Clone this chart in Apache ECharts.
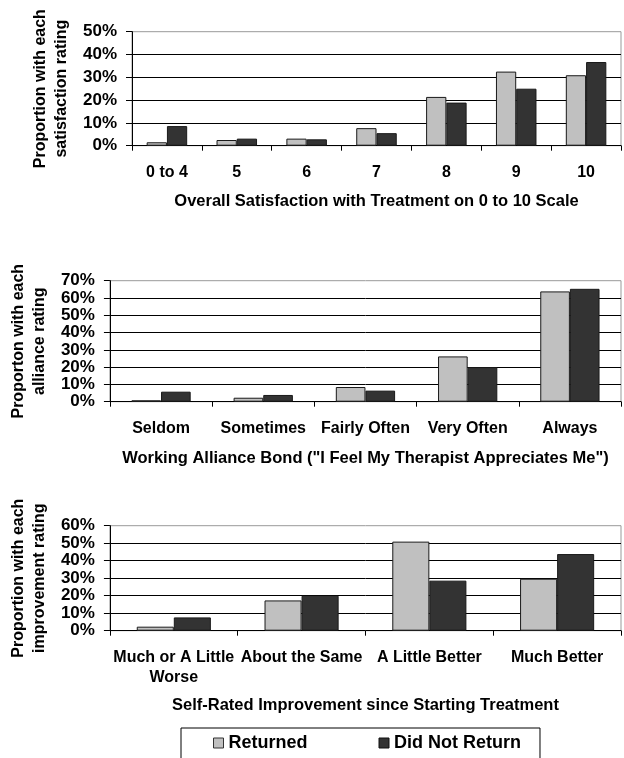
<!DOCTYPE html>
<html>
<head>
<meta charset="utf-8">
<script src="https://cdn.jsdelivr.net/npm/echarts@6/dist/echarts.min.js"></script>
<style>
html,body{margin:0;padding:0;background:#fff;}
#c{width:624px;height:758px;}
</style>
</head>
<body>
<div id="c"></div>
<script>
// ---- data ----
var seriesNames = ['Returned', 'Did Not Return'];

var satCategories = ['0 to 4', '5', '6', '7', '8', '9', '10'];
var satReturned = [1.5, 2.5, 3.1, 7.7, 21.4, 32.5, 30.9];
var satNotReturn = [8.6, 3.1, 2.8, 5.5, 18.9, 25.0, 36.7];
var satTicks = [0, 50, 10];

var allianceCategories = ['Seldom', 'Sometimes', 'Fairly Often', 'Very Often', 'Always'];
var allianceReturned = [0.8, 2.3, 8.5, 26.2, 63.8];
var allianceNotReturn = [5.8, 3.9, 6.4, 20.0, 65.3];
var allianceTicks = [0, 70, 10];

var improveCategories = ['Much or A Little\nWorse', 'About the Same', 'A Little Better', 'Much Better'];
var improveReturned = [2.3, 17.3, 50.9, 29.7];
var improveNotReturn = [7.6, 20.0, 28.6, 43.8];
var improveTicks = [0, 60, 10];

// ---- chart ----
var FONT = '"Liberation Sans", Arial, sans-serif';
var colReturned = '#c0c0c0';
var colNotReturn = '#333333';

var grids = [
  {left: 132, right: 3, top: 31.7, height: 114},
  {left: 107, right: 3, top: 280.7, height: 121},
  {left: 107, right: 3, top: 525.7, height: 105}
];
grids.forEach(function (g) {
  g.show = true; g.borderColor = '#999'; g.borderWidth = 1; g.backgroundColor = 'transparent';
});

function xAx(idx, cats, title, gap) {
  return {
    type: 'category', gridIndex: idx, data: cats,
    name: title, nameLocation: 'middle', nameGap: gap,
    nameTextStyle: {fontFamily: FONT, fontWeight: 'bold', fontSize: 16.5, color: '#000'},
    axisLine: {lineStyle: {color: '#000', width: 1}},
    axisTick: {show: true, length: 5, alignWithLabel: false, lineStyle: {color: '#000'}},
    axisLabel: {fontFamily: FONT, fontWeight: 'bold', fontSize: 16, color: '#000', margin: 17, interval: 0, lineHeight: 20},
    splitLine: {show: false}
  };
}
function yAx(idx, ticks, title) {
  return {
    type: 'value', gridIndex: idx, min: ticks[0], max: ticks[1], interval: ticks[2],
    name: title, nameLocation: 'middle', nameRotate: 90, nameGap: 57,
    nameTextStyle: {fontFamily: FONT, fontWeight: 'bold', fontSize: 16, color: '#000', lineHeight: 21, align: 'center'},
    axisLine: {show: true, lineStyle: {color: '#000', width: 1}},
    axisTick: {show: true, length: 6, lineStyle: {color: '#000'}},
    axisLabel: {fontFamily: FONT, fontWeight: 'bold', fontSize: 17, color: '#000', margin: 15, formatter: '{value}%'},
    splitLine: {show: true, showMinLine: false, showMaxLine: false, lineStyle: {color: '#000', width: 1}}
  };
}
function bar(idx, name, data, color) {
  return {
    type: 'bar', name: name, xAxisIndex: idx, yAxisIndex: idx, data: data,
    barGap: '0%', barCategoryGap: '42%',
    itemStyle: {color: color, borderColor: '#1a1a1a', borderWidth: 1},
    emphasis: {disabled: true}, animation: false
  };
}

var option = {
  animation: false,
  textStyle: {fontFamily: FONT},
  grid: grids,
  xAxis: [
    xAx(0, satCategories, 'Overall Satisfaction with Treatment on 0 to 10 Scale', 47),
    xAx(1, allianceCategories, 'Working Alliance Bond ("I Feel My Therapist Appreciates Me")', 48),
    xAx(2, improveCategories, 'Self-Rated Improvement since Starting Treatment', 66)
  ],
  yAxis: [
    yAx(0, satTicks, 'Proportion with each\nsatisfaction rating'),
    yAx(1, allianceTicks, 'Proporton with each\nalliance rating'),
    yAx(2, improveTicks, 'Proportion with each\nimprovement rating')
  ],
  legend: {
    left: 181, top: 728,
    data: [
      {name: seriesNames[0], icon: 'rect', itemStyle: {color: colReturned, borderColor: '#333', borderWidth: 1}},
      {name: seriesNames[1], icon: 'rect', itemStyle: {color: colNotReturn, borderColor: '#111', borderWidth: 1}}
    ],
    itemWidth: 10, itemHeight: 10, itemGap: 71,
    padding: [6, 19, 20, 32],
    borderColor: '#000', borderWidth: 1,
    textStyle: {fontFamily: FONT, fontWeight: 'bold', fontSize: 18, color: '#000'},
    selectedMode: false
  },
  series: [
    bar(0, seriesNames[0], satReturned, colReturned),
    bar(0, seriesNames[1], satNotReturn, colNotReturn),
    bar(1, seriesNames[0], allianceReturned, colReturned),
    bar(1, seriesNames[1], allianceNotReturn, colNotReturn),
    bar(2, seriesNames[0], improveReturned, colReturned),
    bar(2, seriesNames[1], improveNotReturn, colNotReturn)
  ]
};

var chart = echarts.init(document.getElementById('c'), null, {renderer: 'canvas'});
chart.setOption(option);
</script>
</body>
</html>
